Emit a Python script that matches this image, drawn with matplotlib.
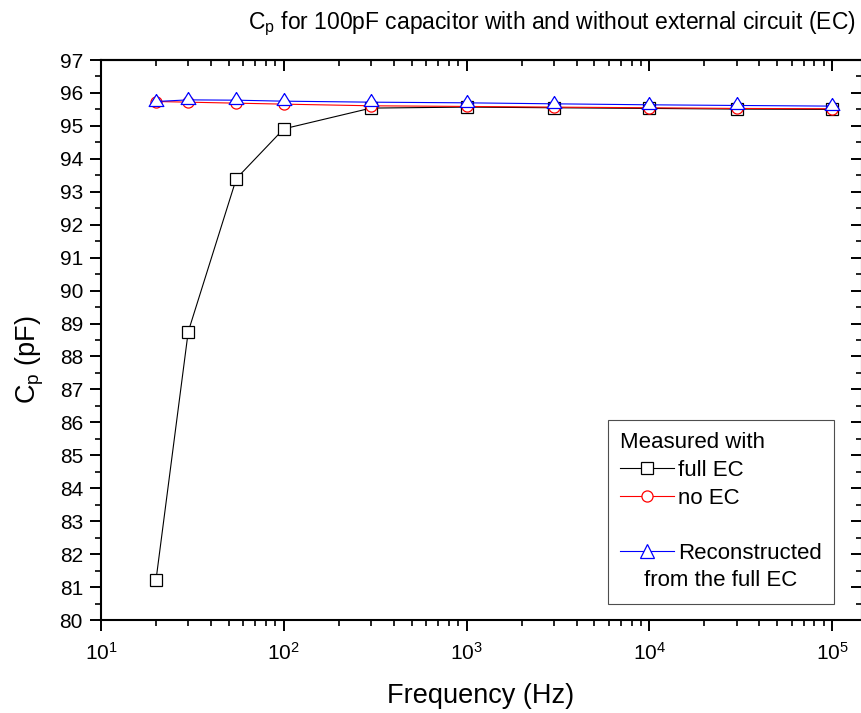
import matplotlib
matplotlib.use("Agg")
import matplotlib.pyplot as plt
from matplotlib.lines import Line2D
from matplotlib.ticker import LogLocator, MultipleLocator, NullFormatter

plt.rcParams['font.family'] = ['Liberation Sans', 'DejaVu Sans']
plt.rcParams['mathtext.fontset'] = 'custom'
plt.rcParams['mathtext.rm'] = 'Liberation Sans'
plt.rcParams['mathtext.it'] = 'Liberation Sans'

freq = [20, 30, 55, 100, 300, 1000, 3000, 10000, 30000, 100000]
full_ec = [81.22, 88.75, 93.40, 94.91, 95.54, 95.57, 95.55, 95.53, 95.51, 95.50]
no_ec = [95.74, 95.72, 95.69, 95.66, 95.61, 95.59, 95.57, 95.55, 95.53, 95.52]
recon = [95.74, 95.79, 95.78, 95.75, 95.72, 95.70, 95.67, 95.64, 95.62, 95.60]

fig = plt.figure(figsize=(8.61, 7.13), dpi=100)
# axes: left spine at x=101 px, right spine just past the right edge
ax = fig.add_axes([101 / 861, 93 / 713, 761 / 861, 560 / 713])

tri = [(0, 1.0), (-0.92, -0.5), (0.92, -0.5), (0, 1.0)]
ms = 8
l1, = ax.plot(freq, full_ec, color='black', lw=0.8, marker='s', ms=ms,
              mfc='white', mec='black', mew=0.9)
l2, = ax.plot(freq, no_ec, color='red', lw=0.8, marker='o', ms=ms,
              mfc='white', mec='red', mew=0.9)
l3, = ax.plot(freq, recon, color='blue', lw=0.8, marker=tri, ms=11.5,
              mfc='white', mec='blue', mew=0.9)

ax.set_xscale('log')
ax.set_xlim(10, 10 ** 5.163)
ax.set_ylim(80, 97)
ax.yaxis.set_major_locator(MultipleLocator(1))
ax.yaxis.set_minor_locator(MultipleLocator(0.5))
ax.xaxis.set_major_locator(LogLocator(base=10, numticks=10))
ax.xaxis.set_minor_locator(LogLocator(base=10, subs=range(2, 10), numticks=20))
ax.xaxis.set_minor_formatter(NullFormatter())

ax.tick_params(which='both', direction='out', labelsize=15)
ax.tick_params(axis='y', which='both', pad=5)
ax.tick_params(axis='x', which='both', pad=8)
ax.tick_params(which='major', length=8, width=1.4)
ax.tick_params(which='minor', length=4, width=1.2)
for s in ax.spines.values():
    s.set_linewidth(1.5)

# top and right ticks point inward
secx = ax.secondary_xaxis('top')
secx.xaxis.set_major_locator(LogLocator(base=10, numticks=10))
secx.xaxis.set_minor_locator(LogLocator(base=10, subs=range(2, 10), numticks=20))
secx.tick_params(which='both', direction='in', labeltop=False)
secx.tick_params(which='major', length=8, width=1.4)
secx.tick_params(which='minor', length=4, width=1.2)
secx.spines['top'].set_linewidth(1.5)

secy = ax.secondary_yaxis('right')
secy.yaxis.set_major_locator(MultipleLocator(1))
secy.yaxis.set_minor_locator(MultipleLocator(0.5))
secy.tick_params(which='both', direction='in', labelright=False)
secy.tick_params(which='major', length=8, width=1.4)
secy.tick_params(which='minor', length=4, width=1.2)

ax.set_xlabel('Frequency (Hz)', fontsize=19.5)
ax.xaxis.set_label_coords((481 - 101) / 761, (620 - 683) / 560)
ax.set_ylabel('C$_p$ (pF)', fontsize=19.5)
ax.yaxis.set_label_coords((46 - 101) / 761, (620 - 360) / 560)

fig.text(552 / 861, (713 - 29) / 713,
         'C$_p$ for 100pF capacitor with and without external circuit (EC)',
         fontsize=16.5, ha='center', va='baseline')

blank = Line2D([], [], color='none')
l3h = Line2D([], [], color='blue', lw=0.8, marker='^', ms=10,
             mfc='white', mec='blue', mew=0.9)
leg = ax.legend([l1, l2, blank, l3h, blank],
                ['full EC', 'no EC', ' ', 'Reconstructed', ' '],
                title='Measured with', alignment='left',
                loc='upper left', bbox_to_anchor=((608 - 101) / 761, (620 - 420) / 560),
                borderaxespad=0,
                fontsize=16, title_fontsize=16, frameon=True, fancybox=False,
                edgecolor='#222222', handlelength=2.4, handletextpad=0.2,
                labelspacing=0.3, borderpad=0.55)
leg.get_frame().set_linewidth(0.8)
texts = leg.get_texts()
ax.annotate('from the full EC', xy=(0, 0.5), xycoords=texts[3],
            xytext=(-34, -27.5), textcoords='offset pixels',
            fontsize=16, va='center', ha='left', zorder=10)

fig.savefig('out.png', dpi=100)
